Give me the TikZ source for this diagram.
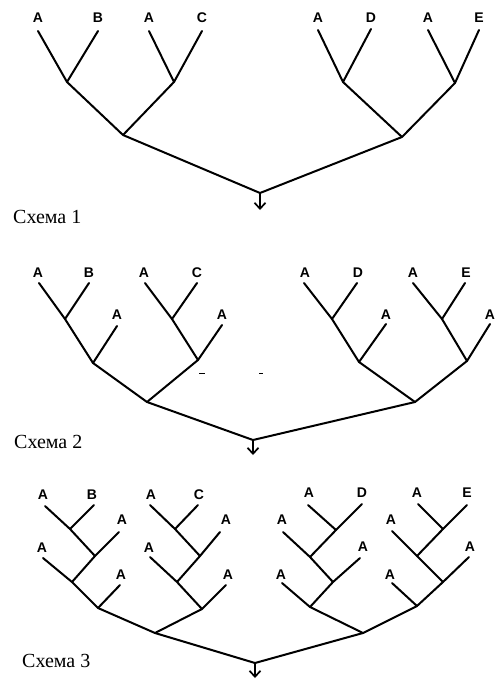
\documentclass[tikz,border=0pt]{standalone}
\usepackage{fontspec}
\setmainfont{Liberation Serif}
\newfontfamily\lblfont{Liberation Sans}
\usetikzlibrary{arrows.meta}
\begin{document}
\begin{tikzpicture}[x=1pt,y=-1pt,
  br/.style={line width=2pt,line join=round,line cap=round},
  arr/.style={br,-{Straight Barb[length=6pt,width=11pt,line width=1.7pt]}},
  lbl/.style={font=\lblfont\bfseries\fontsize{14}{14}\selectfont,inner sep=0pt},
  schemecaption/.style={font=\fontsize{20}{20}\selectfont,anchor=base west,inner sep=0pt},
  speck/.style={line width=1pt}]
\useasboundingbox[fill=white] (0,0) rectangle (496,680);

% ---------------- Scheme 1 ----------------
\node[lbl] (l1a) at (38,18) {A};
\node[lbl] (l1b) at (98,18) {B};
\node[lbl] (l1c) at (149,18) {A};
\node[lbl] (l1d) at (202,18) {C};
\node[lbl] (l1e) at (318,18) {A};
\node[lbl] (l1f) at (371,18) {D};
\node[lbl] (l1g) at (428,18) {A};
\node[lbl] (l1h) at (479,18) {E};
\coordinate (t1a) at (38,31);  \coordinate (t1b) at (98,31);
\coordinate (t1c) at (149,31); \coordinate (t1d) at (202,31);
\coordinate (t1e) at (318,30); \coordinate (t1f) at (371,29);
\coordinate (t1g) at (428,30); \coordinate (t1h) at (479,30);
\coordinate (j1a) at (67,82);  \coordinate (j1b) at (174,82);
\coordinate (j1c) at (123,135);
\coordinate (j1d) at (343,82); \coordinate (j1e) at (455,83);
\coordinate (j1f) at (402,137);
\coordinate (r1) at (260,193); \coordinate (e1) at (260,210);
\draw[br] (t1a) -- (j1a) -- (t1b);
\draw[br] (t1c) -- (j1b) -- (t1d);
\draw[br] (j1a) -- (j1c) -- (j1b);
\draw[br] (t1e) -- (j1d) -- (t1f);
\draw[br] (t1g) -- (j1e) -- (t1h);
\draw[br] (j1d) -- (j1f) -- (j1e);
\draw[br] (j1c) -- (r1) -- (j1f);
\draw[arr] (r1) -- (e1);
\node[schemecaption] (c1) at (13,223) {Схема 1};

% ---------------- Scheme 2 ----------------
\node[lbl] (l2a) at (38,273) {A};
\node[lbl] (l2b) at (89,273) {B};
\node[lbl] (l2c) at (117,315) {A};
\node[lbl] (l2d) at (144,273) {A};
\node[lbl] (l2e) at (197,273) {C};
\node[lbl] (l2f) at (222,315) {A};
\node[lbl] (l2g) at (305,273) {A};
\node[lbl] (l2h) at (358,273) {D};
\node[lbl] (l2i) at (386,315) {A};
\node[lbl] (l2j) at (413,273) {A};
\node[lbl] (l2k) at (466,273) {E};
\node[lbl] (l2l) at (490,315) {A};
\coordinate (t2a) at (39,283);  \coordinate (t2b) at (89,283);
\coordinate (t2c) at (117,326); \coordinate (t2d) at (145,283);
\coordinate (t2e) at (197,283); \coordinate (t2f) at (222,325);
\coordinate (t2g) at (304,283); \coordinate (t2h) at (357,283);
\coordinate (t2i) at (386,324); \coordinate (t2j) at (413,283);
\coordinate (t2k) at (465,283); \coordinate (t2l) at (490,324);
\coordinate (k1) at (65,319);  \coordinate (k2) at (93,363);
\coordinate (k3) at (172,319); \coordinate (k4) at (198,360);
\coordinate (k5) at (147,402);
\coordinate (k6) at (332,319); \coordinate (k7) at (359,362);
\coordinate (k8) at (442,319); \coordinate (k9) at (467,361);
\coordinate (k10) at (415,402);
\coordinate (r2) at (253,440); \coordinate (e2) at (253,455);
\draw[br] (t2a) -- (k1) -- (k2);
\draw[br] (t2b) -- (k1);
\draw[br] (t2c) -- (k2);
\draw[br] (t2d) -- (k3) -- (k4);
\draw[br] (t2e) -- (k3);
\draw[br] (t2f) -- (k4);
\draw[br] (k2) -- (k5) -- (k4);
\draw[br] (t2g) -- (k6) -- (k7);
\draw[br] (t2h) -- (k6);
\draw[br] (t2i) -- (k7);
\draw[br] (t2j) -- (k8) -- (k9);
\draw[br] (t2k) -- (k8);
\draw[br] (t2l) -- (k9);
\draw[br] (k7) -- (k10) -- (k9);
\draw[br] (k5) -- (r2) -- (k10);
\draw[arr] (r2) -- (e2);
\coordinate (s1a) at (199,373); \coordinate (s1b) at (205,373);
\coordinate (s2a) at (259,373); \coordinate (s2b) at (263,373);
\draw[speck] (s1a) -- (s1b);
\draw[speck] (s2a) -- (s2b);
\node[schemecaption] (c2) at (14,448) {Схема 2};

% ---------------- Scheme 3 ----------------
% group 1
\node[lbl] (l3a) at (43,495) {A};
\node[lbl] (l3b) at (92,495) {B};
\node[lbl] (l3c) at (122,520) {A};
\node[lbl] (l3d) at (42,548) {A};
\node[lbl] (l3e) at (121,575) {A};
\coordinate (t3a) at (45,506);  \coordinate (t3b) at (94,505);
\coordinate (t3c) at (119,532); \coordinate (t3d) at (43,558);
\coordinate (t3e) at (120,585);
\coordinate (m1) at (70,529); \coordinate (m2) at (95,556);
\coordinate (m3) at (72,582); \coordinate (m4) at (98,608);
\draw[br] (t3a) -- (m1) -- (m2);
\draw[br] (t3b) -- (m1);
\draw[br] (t3c) -- (m2) -- (m3) -- (m4);
\draw[br] (t3d) -- (m3);
\draw[br] (t3e) -- (m4);
% group 2
\node[lbl] (l3f) at (151,495) {A};
\node[lbl] (l3g) at (199,495) {C};
\node[lbl] (l3h) at (226,520) {A};
\node[lbl] (l3i) at (149,548) {A};
\node[lbl] (l3j) at (228,575) {A};
\coordinate (t3f) at (150,505); \coordinate (t3g) at (198,505);
\coordinate (t3h) at (220,532); \coordinate (t3i) at (150,557);
\coordinate (t3j) at (226,585);
\coordinate (m5) at (175,529); \coordinate (m6) at (200,556);
\coordinate (m7) at (177,582); \coordinate (m8) at (202,609);
\draw[br] (t3f) -- (m5) -- (m6);
\draw[br] (t3g) -- (m5);
\draw[br] (t3h) -- (m6) -- (m7) -- (m8);
\draw[br] (t3i) -- (m7);
\draw[br] (t3j) -- (m8);
\coordinate (n1) at (155,633);
\draw[br] (m4) -- (n1) -- (m8);
% group 3
\node[lbl] (l3k) at (309,493) {A};
\node[lbl] (l3l) at (362,493) {D};
\node[lbl] (l3m) at (282,520) {A};
\node[lbl] (l3n) at (363,547) {A};
\node[lbl] (l3o) at (281,575) {A};
\coordinate (t3k) at (308,505); \coordinate (t3l) at (362,504);
\coordinate (t3m) at (283,532); \coordinate (t3n) at (360,558);
\coordinate (t3o) at (282,583);
\coordinate (m9) at (336,530);  \coordinate (m10) at (310,557);
\coordinate (m11) at (333,582); \coordinate (m12) at (310,607);
\draw[br] (t3k) -- (m9);
\draw[br] (t3l) -- (m9) -- (m10);
\draw[br] (t3m) -- (m10) -- (m11);
\draw[br] (t3n) -- (m11) -- (m12);
\draw[br] (t3o) -- (m12);
% group 4
\node[lbl] (l3p) at (417,493) {A};
\node[lbl] (l3q) at (467,493) {E};
\node[lbl] (l3r) at (391,520) {A};
\node[lbl] (l3s) at (470,547) {A};
\node[lbl] (l3t) at (390,575) {A};
\coordinate (t3p) at (418,504); \coordinate (t3q) at (467,505);
\coordinate (t3r) at (392,531); \coordinate (t3s) at (469,557);
\coordinate (t3t) at (392,583);
\coordinate (m13) at (443,529); \coordinate (m14) at (417,556);
\coordinate (m15) at (443,582); \coordinate (m16) at (417,606);
\draw[br] (t3p) -- (m13);
\draw[br] (t3q) -- (m13) -- (m14);
\draw[br] (t3r) -- (m14) -- (m15);
\draw[br] (t3s) -- (m15) -- (m16);
\draw[br] (t3t) -- (m16);
\coordinate (n2) at (363,633);
\draw[br] (m12) -- (n2) -- (m16);
\coordinate (r3) at (255,663); \coordinate (e3) at (255,678);
\draw[br] (n1) -- (r3) -- (n2);
\draw[arr] (r3) -- (e3);
\node[schemecaption] (c3) at (22,667) {Схема 3};
\end{tikzpicture}
\end{document}
